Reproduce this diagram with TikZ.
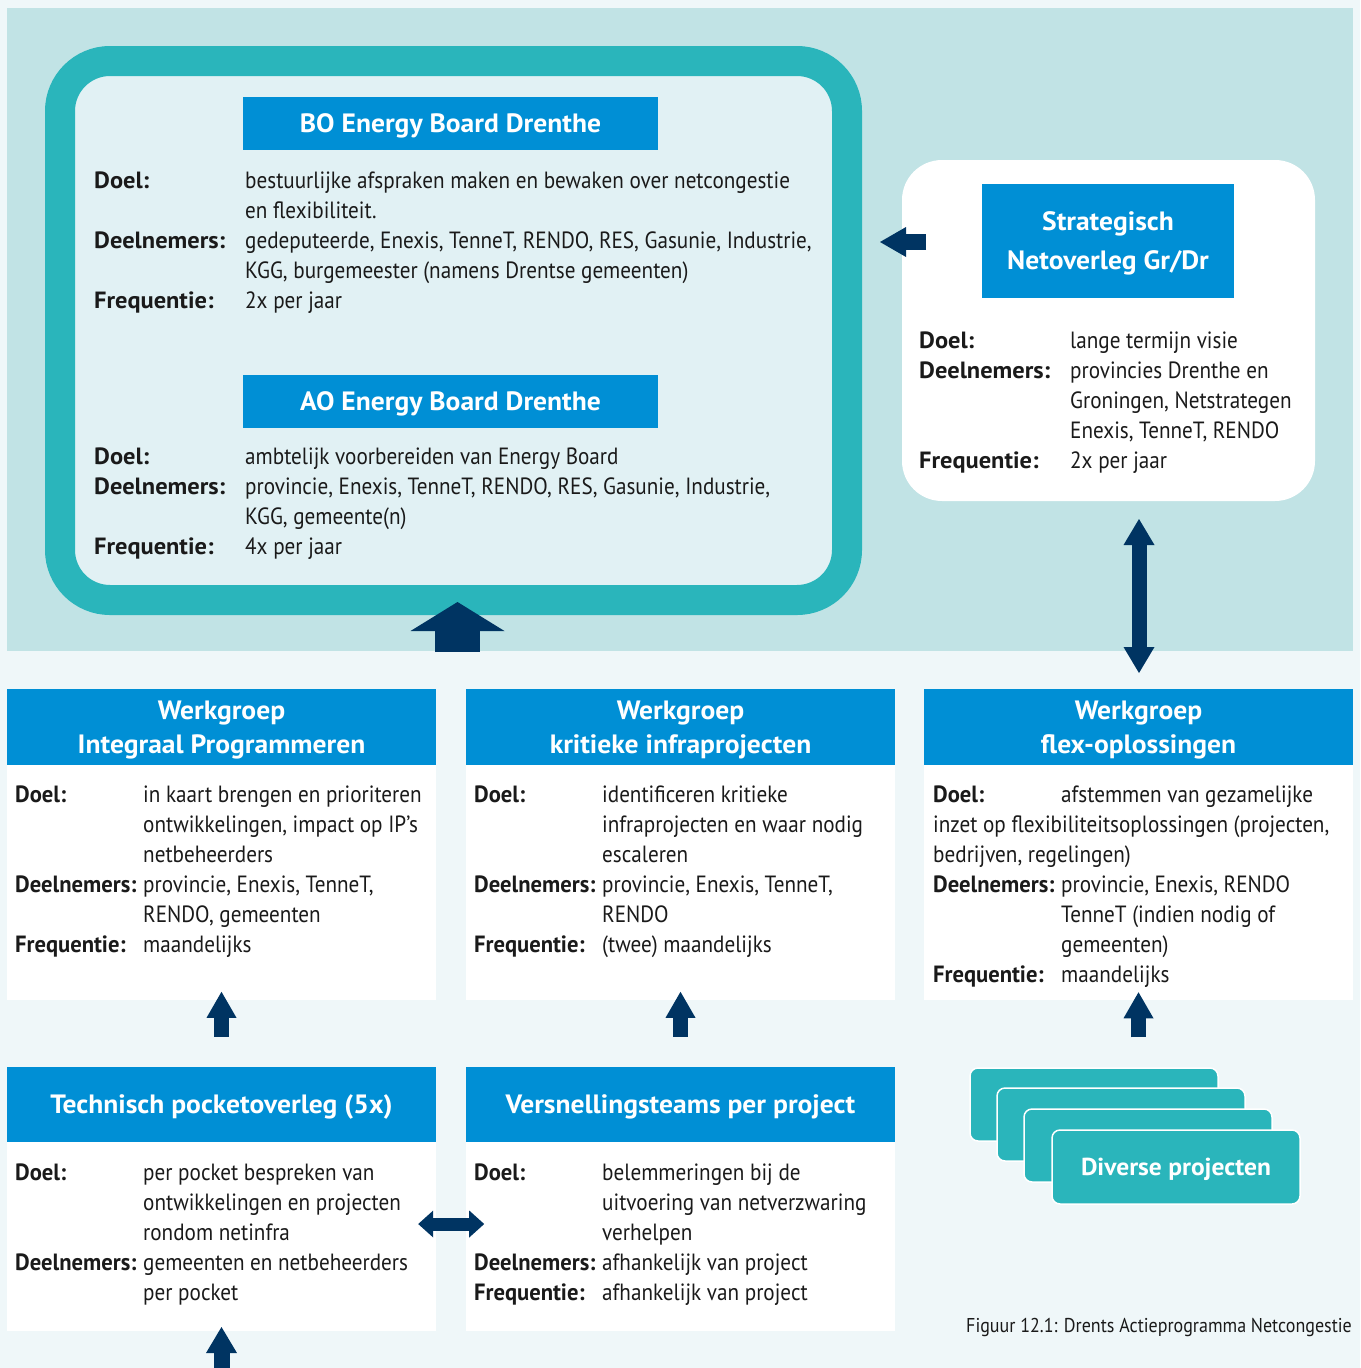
\documentclass[tikz,border=0pt]{standalone}
\usepackage{fontspec}
\setmainfont{PT Sans}[FakeStretch=0.90,BoldFeatures={FakeStretch=1.04}]
\usepackage{array}
\usetikzlibrary{arrows.meta}

\definecolor{achtergrond}{HTML}{EFF7F9}
\definecolor{vlak}{HTML}{C1E3E5}
\definecolor{turkoois}{HTML}{2AB5BB}
\definecolor{binnen}{HTML}{E1F1F4}
\definecolor{kopblauw}{HTML}{008FD5}
\definecolor{pijlblauw}{HTML}{003462}
\definecolor{tekst}{HTML}{1A1A1A}

\newcommand{\lbl}[1]{\textbf{#1}}
\newcommand{\klbl}[1]{\scalebox{0.925}[1]{\textbf{#1}}}

\begin{document}
\begin{tikzpicture}[x=1pt,y=-1pt,
  kop/.style={fill=kopblauw, text=white, inner sep=0pt, align=center, text depth=0pt,
    font=\bfseries\fontsize{26.5}{34}\selectfont},
  tabel/.style={inner sep=0pt, anchor=base west, text=tekst,
    font=\fontsize{23.5}{30}\selectfont},
  blokpijl/.style n args={3}{draw=pijlblauw, line width=#1,
    -{Triangle[width=#2,length=#3,line width=0pt]}},
  dubbelpijl/.style n args={3}{draw=pijlblauw, line width=#1,
    {Triangle[width=#2,length=#3,line width=0pt]}-{Triangle[width=#2,length=#3,line width=0pt]}}]
\useasboundingbox (0,0) rectangle (1360,1368);
\fill [achtergrond] (0,0) rectangle (1360,1368);
\fill [vlak] (7,8) rectangle (1353,651);

% energy board
\draw [turkoois, line width=30pt, fill=binnen, rounded corners=50pt] (60,61) rectangle (847,600);
\node [kop, minimum width=415pt, minimum height=53pt] (boKop) at (450.5,123.5) {BO Energy Board Drenthe};
\node [tabel] (boTekst) at (94,188) {\begin{tabular}[t]{@{}p{151pt}@{}l@{}}
\lbl{Doel:} & bestuurlijke afspraken maken en bewaken over netcongestie\\
 & en flexibiliteit.\\
\lbl{Deelnemers:} & gedeputeerde, Enexis, TenneT, RENDO, RES, Gasunie, Industrie,\\
 & KGG, burgemeester (namens Drentse gemeenten)\\
\lbl{Frequentie:} & 2x per jaar
\end{tabular}};
\node [kop, minimum width=415pt, minimum height=53pt] (aoKop) at (450.5,401.5) {AO Energy Board Drenthe};
\node [tabel] (aoTekst) at (94,464) {\begin{tabular}[t]{@{}p{151pt}@{}l@{}}
\lbl{Doel:} & ambtelijk voorbereiden van Energy Board\\
\lbl{Deelnemers:} & provincie, Enexis, TenneT, RENDO, RES, Gasunie, Industrie,\\
 & KGG, gemeente(n)\\
\lbl{Frequentie:} & 4x per jaar
\end{tabular}};

% strategisch netoverleg
\fill [white, rounded corners=40pt] (902,160) rectangle (1315,501);
\node [kop, minimum width=252pt, minimum height=114pt, font=\bfseries\fontsize{26.5}{39}\selectfont] (snKop) at (1108,241) {Strategisch\\Netoverleg Gr/Dr};
\node [tabel] (snTekst) at (919,348) {\begin{tabular}[t]{@{}p{151pt}@{}l@{}}
\lbl{Doel:} & lange termijn visie\\
\lbl{Deelnemers:} & provincies Drenthe en\\
 & Groningen, Netstrategen\\
 & Enexis, TenneT, RENDO\\
\lbl{Frequentie:} & 2x per jaar
\end{tabular}};

% werkgroepen
\fill [white] (7,765) rectangle (436,1000);
\fill [white] (466,765) rectangle (895,1000);
\fill [white] (924,765) rectangle (1353,1000);
\node [kop, minimum width=429pt, minimum height=76pt] (wgProg) at (221.5,727) {Werkgroep\\Integraal Programmeren};
\node [kop, minimum width=429pt, minimum height=76pt] (wgInfra) at (680.5,727) {Werkgroep\\kritieke infraprojecten};
\node [kop, minimum width=429pt, minimum height=76pt] (wgFlex) at (1138.5,727) {Werkgroep\\flex-oplossingen};
\node [tabel] (progTekst) at (15,802) {\begin{tabular}[t]{@{}p{128pt}@{}l@{}}
\klbl{Doel:} & in kaart brengen en prioriteren\\
 & ontwikkelingen, impact op IP’s\\
 & netbeheerders\\
\klbl{Deelnemers:} & provincie, Enexis, TenneT,\\
 & RENDO, gemeenten\\
\klbl{Frequentie:} & maandelijks
\end{tabular}};
\node [tabel] (infraTekst) at (474,802) {\begin{tabular}[t]{@{}p{128pt}@{}l@{}}
\klbl{Doel:} & identificeren kritieke\\
 & infraprojecten en waar nodig\\
 & escaleren\\
\klbl{Deelnemers:} & provincie, Enexis, TenneT,\\
 & RENDO\\
\klbl{Frequentie:} & (twee) maandelijks
\end{tabular}};
\node [tabel] (flexTekst) at (933,802) {\begin{tabular}[t]{@{}p{128pt}@{}l@{}}
\klbl{Doel:} & afstemmen van gezamelijke\\
\multicolumn{2}{@{}l@{}}{inzet op flexibiliteitsoplossingen (projecten,}\\
\multicolumn{2}{@{}l@{}}{bedrijven, regelingen)}\\
\klbl{Deelnemers:} & provincie, Enexis, RENDO\\
 & TenneT (indien nodig of\\
 & gemeenten)\\
\klbl{Frequentie:} & maandelijks
\end{tabular}};

% onderste rij
\fill [white] (7,1142) rectangle (436,1331);
\fill [white] (466,1142) rectangle (895,1331);
\node [kop, minimum width=429pt, minimum height=75pt] (tpKop) at (221.5,1104.5) {Technisch pocketoverleg (5x)};
\node [kop, minimum width=429pt, minimum height=75pt] (vtKop) at (680.5,1104.5) {Versnellingsteams per project};
\node [tabel] (tpTekst) at (15,1180) {\begin{tabular}[t]{@{}p{128pt}@{}l@{}}
\klbl{Doel:} & per pocket bespreken van\\
 & ontwikkelingen en projecten\\
 & rondom netinfra\\
\klbl{Deelnemers:} & gemeenten en netbeheerders\\
 & per pocket
\end{tabular}};
\node [tabel] (vtTekst) at (474,1180) {\begin{tabular}[t]{@{}p{128pt}@{}l@{}}
\klbl{Doel:} & belemmeringen bij de\\
 & uitvoering van netverzwaring\\
 & verhelpen\\
\klbl{Deelnemers:} & afhankelijk van project\\
\klbl{Frequentie:} & afhankelijk van project
\end{tabular}};

% diverse projecten
\foreach \dx/\dy in {0/0,27/20,54/41} {
  \draw [white, line width=1.5pt, fill=turkoois, rounded corners=8pt] (970+\dx,1068+\dy) rectangle (1218+\dx,1141+\dy);
}
\node [draw=white, line width=1.5pt, fill=turkoois, rounded corners=8pt, minimum width=248pt, minimum height=74pt,
  text=white, text depth=0pt, font=\bfseries\fontsize{24.5}{30}\selectfont] (diverse) at (1176,1167) {Diverse projecten};

\node [anchor=base east, inner sep=0pt, text=tekst, font=\fontsize{20}{24}\selectfont] (bijschrift) at (1352,1332)
  {Figuur 12.1: Drents Actieprogramma Netcongestie};

% pijlen
\coordinate (ebVoet) at (457.5,652);
\coordinate (ebPunt) at (457.5,602);
\coordinate (snStaart) at (926,242);
\coordinate (snPunt) at (880,242);
\coordinate (snOnder) at (1139,519);
\coordinate (flexBoven) at (1139,673);
\coordinate (tpPunt) at (221.5,1327);
\coordinate (tpVoet) at (221.5,1368);
\draw [blokpijl={45pt}{94pt}{29pt}] (ebVoet) -- (ebPunt);
\draw [blokpijl={16pt}{30pt}{26pt}] (snStaart) -- (snPunt);
\draw [dubbelpijl={15pt}{31pt}{26pt}] (snOnder) -- (flexBoven);
\draw [blokpijl={15pt}{30pt}{26pt}] (tpKop.north) ++(0,-30) -- ++(0,-45);
\draw [blokpijl={15pt}{30pt}{26pt}] (vtKop.north) ++(0,-30) -- ++(0,-45);
\draw [blokpijl={15pt}{30pt}{26pt}] (diverse.north -| wgFlex.south) ++(0,-92) -- ++(0,-45);
\draw [dubbelpijl={13pt}{27pt}{15pt}] (tpKop.east |- tpTekst.base) ++(-18,44) -- ++(66,0);
\draw [blokpijl={16pt}{31pt}{26pt}] (tpVoet) -- (tpPunt);
\end{tikzpicture}
\end{document}
